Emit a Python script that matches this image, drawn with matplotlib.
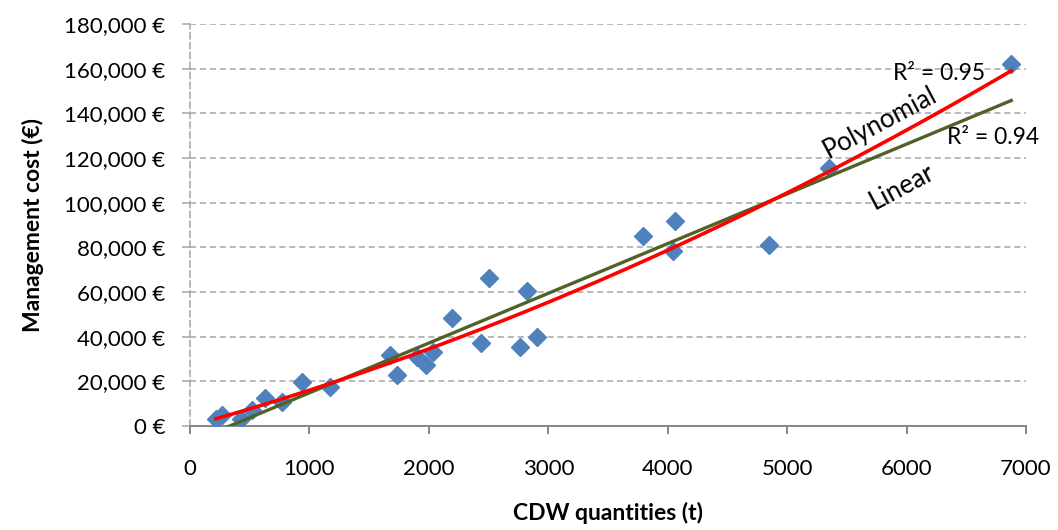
import numpy as np
import matplotlib.pyplot as plt
from matplotlib.ticker import FuncFormatter

plt.rcParams['font.family'] = ['Lato', 'DejaVu Sans']

# datos
cantidad_t = [218, 268, 427, 519, 628, 770, 938, 1173, 1675, 1734, 1901, 1977,
              2035, 2194, 2437, 2504, 2764, 2822, 2906, 3794, 4062, 4045, 4849,
              5352, 6876]
coste_eur = [3100, 4900, 3100, 7200, 12500, 10700, 19700, 17500, 31800, 22800,
             30900, 27300, 33100, 48400, 37200, 66300, 35400, 60500, 39900,
             85100, 91800, 78400, 81100, 115500, 162000]
r2_lineal = "R² = 0.94"
r2_poli = "R² = 0.95"

x = np.array(cantidad_t, dtype=float)
y = np.array(coste_eur, dtype=float)

# lineas de tendencia
c_lin = np.polyfit(x, y, 1)
c_pol = np.polyfit(x, y, 2)
xs = np.linspace(x.min(), x.max(), 200)

fig = plt.figure(figsize=(10.58, 5.30), dpi=100)
ax = fig.add_axes([0.1796, 0.1962, 0.7902, 0.7585])

ax.plot(x, y, linestyle="none", marker="D", markersize=9.5, color="#4F81BD",
        markeredgecolor="#4F81BD", zorder=3)
ax.plot(xs, np.polyval(c_lin, xs), color="#4F6228", linewidth=2.4, zorder=4)
ax.plot(xs, np.polyval(c_pol, xs), color="#FF0000", linewidth=2.6, zorder=5)

ax.set_xlim(0, 7000)
ax.set_ylim(0, 180000)
ax.set_xticks(np.arange(0, 7001, 1000))
ax.set_yticks(np.arange(0, 180001, 20000))
ax.yaxis.set_major_formatter(FuncFormatter(lambda v, p: f"{int(v):,} €"))

ax.grid(axis="y", color="#A6A6A6", linestyle=(0, (4, 2.5)), linewidth=1.1)
ax.set_axisbelow(True)
for lado in ["top", "right"]:
    ax.spines[lado].set_visible(False)
ax.spines["bottom"].set_color("#868686")
ax.spines["bottom"].set_linewidth(1.4)
ax.spines["left"].set_color("#A6A6A6")
ax.spines["left"].set_linestyle((0, (4, 2.5)))
ax.spines["left"].set_linewidth(1.1)

ax.tick_params(axis="x", direction="out", length=6, width=1.4, color="#868686",
               labelsize=16, pad=18)
ax.tick_params(axis="y", direction="out", length=6, width=1.1, color="#A6A6A6",
               labelsize=16, pad=12)

ax.set_xlabel("CDW quantities (t)", fontsize=16.5, fontweight="bold", labelpad=16)
ax.set_ylabel("Management cost (€)", fontsize=16.5, fontweight="bold", labelpad=14)

ax.text(6658, 158000, r2_poli, fontsize=16.5, ha="right", va="center")
ax.text(6725, 129400, r2_lineal, fontsize=16.5, ha="center", va="center")
ax.text(5779, 136000, "Polynomial", fontsize=18.5, rotation=28,
        ha="center", va="center")
ax.text(5963, 107000, "Linear", fontsize=18.5, rotation=28,
        ha="center", va="center")

plt.savefig("out.png", dpi=100)
